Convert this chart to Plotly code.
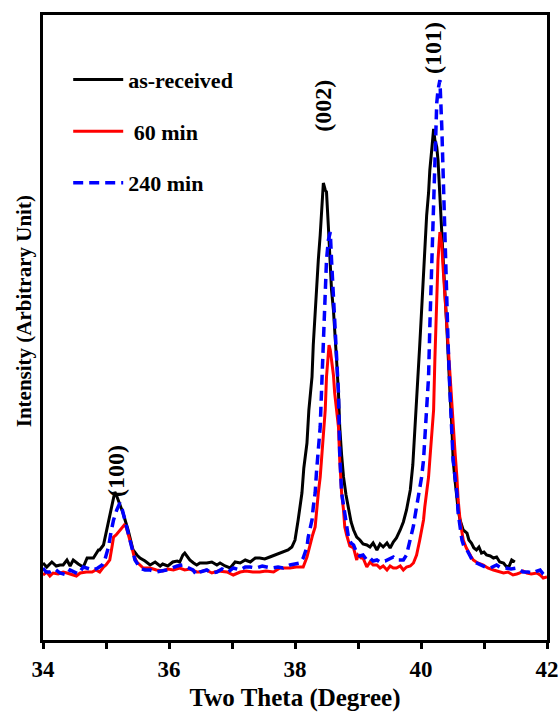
import plotly.graph_objects as go

# ---- data (two theta in degrees, intensity in arbitrary units) ----
asrec_x = [34.00, 34.06, 34.14, 34.21, 34.27, 34.32, 34.38, 34.43, 34.48, 34.56, 34.64, 34.70, 34.75, 34.80, 34.88, 34.90,
           34.96, 35.01, 35.06, 35.10, 35.14, 35.17, 35.22, 35.27, 35.35, 35.43, 35.49, 35.54, 35.62, 35.70, 35.78, 35.86,
           35.90, 35.98, 36.06, 36.13, 36.17, 36.22, 36.25, 36.30, 36.33, 36.39, 36.44, 36.49, 36.60, 36.68, 36.76, 36.81,
           36.89, 36.97, 37.05, 37.13, 37.21, 37.29, 37.37, 37.44, 37.52, 37.60, 37.68, 37.76, 37.83, 37.89, 37.95, 38.00,
           38.05, 38.11, 38.14, 38.19, 38.22, 38.27, 38.29, 38.32, 38.34, 38.37, 38.40, 38.42, 38.45, 38.48, 38.50, 38.53,
           38.56, 38.58, 38.61, 38.63, 38.66, 38.69, 38.71, 38.74, 38.77, 38.81, 38.85, 38.89, 38.93, 38.98, 39.03, 39.08,
           39.14, 39.19, 39.24, 39.30, 39.35, 39.40, 39.46, 39.51, 39.56, 39.61, 39.67, 39.72, 39.77, 39.83, 39.87, 39.90,
           39.93, 39.96, 39.98, 40.01, 40.04, 40.06, 40.09, 40.12, 40.14, 40.17, 40.20, 40.22, 40.25, 40.27, 40.30, 40.33,
           40.35, 40.38, 40.41, 40.43, 40.46, 40.49, 40.51, 40.54, 40.57, 40.59, 40.62, 40.65, 40.67, 40.73, 40.76, 40.80,
           40.84, 40.88, 40.92, 40.96, 41.00, 41.04, 41.10, 41.15, 41.20, 41.25, 41.31, 41.36, 41.40, 41.44, 41.49]
asrec_y = [77, 73, 78, 74, 75, 75, 80, 74, 80, 76, 73, 82, 82, 82, 90, 90,
           95, 110, 127, 138, 148, 144, 135, 127, 110, 90, 85, 82, 79, 75, 78, 74,
           76, 74, 78, 79, 78, 85, 87, 82, 80, 77, 75, 77, 77, 78, 75, 77,
           74, 72, 78, 77, 80, 78, 82, 82, 81, 83, 85, 87, 88, 90, 93, 100,
           120, 147, 172, 197, 230, 263, 295, 330, 355, 380, 405, 430, 457, 450, 448, 413,
           370, 350, 330, 305, 280, 247, 213, 185, 163, 145, 130, 118, 110, 103, 100, 96,
           95, 93, 97, 90, 96, 93, 97, 92, 98, 102, 110, 118, 130, 150, 175, 207,
           235, 263, 295, 330, 365, 397, 425, 447, 470, 490, 511, 500, 493, 480, 447, 415,
           380, 347, 313, 280, 247, 213, 180, 160, 140, 130, 120, 113, 110, 107, 100, 97,
           92, 90, 93, 87, 88, 85, 84, 82, 83, 78, 77, 73, 74, 80, 78]

min60_x = [34.00, 34.06, 34.11, 34.16, 34.24, 34.32, 34.38, 34.46, 34.53, 34.59, 34.69, 34.78, 34.84, 34.90, 34.96, 35.00,
           35.06, 35.10, 35.12, 35.16, 35.20, 35.24, 35.29, 35.32, 35.35, 35.41, 35.44, 35.49, 35.54, 35.59, 35.70, 35.80,
           35.90, 35.98, 36.07, 36.17, 36.25, 36.33, 36.44, 36.49, 36.59, 36.68, 36.78, 36.92, 37.02, 37.13, 37.22, 37.33,
           37.44, 37.54, 37.66, 37.76, 37.84, 37.92, 38.02, 38.13, 38.19, 38.24, 38.28, 38.32, 38.34, 38.37, 38.40, 38.42,
           38.45, 38.48, 38.50, 38.52, 38.54, 38.56, 38.58, 38.61, 38.63, 38.66, 38.69, 38.71, 38.74, 38.77, 38.79, 38.82,
           38.85, 38.87, 38.93, 38.98, 39.00, 39.05, 39.08, 39.14, 39.19, 39.24, 39.30, 39.35, 39.40, 39.46, 39.51, 39.56,
           39.61, 39.67, 39.72, 39.77, 39.83, 39.88, 39.93, 39.96, 39.98, 40.01, 40.04, 40.06, 40.09, 40.12, 40.14, 40.17,
           40.20, 40.22, 40.25, 40.27, 40.30, 40.33, 40.35, 40.38, 40.41, 40.43, 40.46, 40.49, 40.51, 40.54, 40.57, 40.59,
           40.62, 40.65, 40.67, 40.72, 40.75, 40.79, 40.83, 40.90, 40.99, 41.06, 41.15, 41.22, 41.31, 41.38, 41.46, 41.52,
           41.57, 41.62, 41.68, 41.75, 41.84, 41.89, 41.94, 42.00]
min60_y = [65, 68, 64, 67, 66, 68, 67, 65, 64, 67, 68, 68, 70, 68, 73, 75,
           80, 95, 103, 105, 108, 112, 115, 113, 107, 93, 85, 78, 75, 72, 72, 70,
           69, 71, 70, 72, 70, 71, 68, 68, 70, 67, 69, 68, 65, 68, 69, 68,
           68, 69, 68, 72, 72, 72, 73, 73, 83, 97, 105, 113, 130, 147, 163, 180,
           205, 230, 263, 285, 295, 290, 280, 265, 247, 230, 213, 180, 147, 130, 113, 105,
           97, 94, 92, 80, 85, 82, 82, 73, 78, 75, 75, 72, 74, 70, 74, 72,
           72, 74, 70, 73, 74, 77, 85, 93, 100, 110, 120, 133, 147, 163, 180, 205,
           230, 280, 330, 380, 408, 395, 373, 343, 313, 288, 263, 238, 213, 188, 163, 140,
           120, 108, 100, 92, 88, 84, 80, 77, 75, 72, 70, 69, 67, 68, 65, 66,
           67, 69, 67, 66, 67, 65, 62, 63]

min240_x = [34.00, 34.05, 34.11, 34.19, 34.27, 34.38, 34.43, 34.49, 34.56, 34.64, 34.70, 34.80, 34.87, 34.94, 34.98, 35.04,
            35.08, 35.12, 35.17, 35.22, 35.26, 35.30, 35.35, 35.41, 35.46, 35.51, 35.54, 35.62, 35.70, 35.80, 35.89, 35.96,
            36.05, 36.13, 36.22, 36.30, 36.38, 36.44, 36.49, 36.60, 36.68, 36.76, 36.84, 36.94, 37.02, 37.13, 37.21, 37.29,
            37.38, 37.48, 37.55, 37.63, 37.73, 37.81, 37.92, 38.02, 38.08, 38.13, 38.16, 38.19, 38.21, 38.24, 38.27, 38.29,
            38.32, 38.34, 38.37, 38.40, 38.42, 38.45, 38.48, 38.50, 38.53, 38.56, 38.58, 38.61, 38.63, 38.66, 38.69, 38.71,
            38.74, 38.77, 38.79, 38.82, 38.85, 38.89, 38.93, 38.98, 39.03, 39.08, 39.14, 39.19, 39.24, 39.30, 39.35, 39.43,
            39.51, 39.56, 39.61, 39.67, 39.72, 39.77, 39.80, 39.83, 39.85, 39.88, 39.90, 39.93, 39.96, 39.98, 40.01, 40.04,
            40.06, 40.09, 40.12, 40.14, 40.17, 40.20, 40.22, 40.25, 40.27, 40.30, 40.33, 40.35, 40.38, 40.41, 40.43, 40.46,
            40.49, 40.51, 40.54, 40.57, 40.59, 40.62, 40.65, 40.68, 40.73, 40.78, 40.83, 40.88, 40.94, 41.02, 41.10, 41.15,
            41.20, 41.25, 41.36, 41.43, 41.52, 41.57, 41.62, 41.70, 41.78, 41.84, 41.89, 41.94, 42.00]
min240_y = [72, 68, 68, 71, 67, 65, 70, 68, 66, 73, 72, 70, 72, 75, 80, 93,
            108, 120, 130, 137, 130, 120, 110, 95, 80, 75, 72, 70, 70, 68, 69, 70,
            72, 74, 75, 72, 70, 65, 68, 70, 67, 68, 71, 68, 72, 70, 73, 73,
            72, 74, 73, 72, 73, 72, 75, 76, 77, 82, 87, 93, 103, 112, 120, 133,
            147, 167, 190, 213, 247, 297, 340, 380, 400, 408, 380, 340, 313, 287, 247, 187,
            147, 135, 127, 113, 102, 97, 95, 87, 84, 85, 80, 82, 79, 80, 78, 79,
            82, 83, 80, 80, 80, 85, 92, 100, 107, 114, 122, 133, 140, 147, 163, 180,
            205, 230, 263, 313, 380, 447, 497, 537, 550, 560, 513, 463, 413, 347, 297, 247,
            197, 180, 163, 147, 127, 113, 100, 94, 90, 84, 78, 77, 75, 73, 72, 74,
            75, 73, 72, 71, 72, 70, 68, 68, 67, 69, 70, 66, 63]

series_names = ["as-received", "\u00a060 min", "240 min"]
peak_labels = ["(100)", "(002)", "(101)"]
peak_label_x = [35.16, 38.44, 40.19]
peak_label_y = [169, 534, 592]
x_ticks = [34, 36, 38, 40, 42]

FONT = "Times New Roman, Liberation Serif, serif"

fig = go.Figure()
fig.add_trace(go.Scatter(x=asrec_x, y=asrec_y, mode="lines", name=series_names[0],
                         line=dict(color="#000000", width=3), legendgroup="a"))
fig.add_trace(go.Scatter(x=min60_x, y=min60_y, mode="lines", name=series_names[1],
                         line=dict(color="#ff0000", width=3), legendgroup="b"))
fig.add_trace(go.Scatter(x=min240_x, y=min240_y, mode="lines", name=series_names[2],
                         line=dict(color="#0000ff", width=3.5, dash="10px,6px"), legendgroup="c"))

for t, lx, ly in zip(peak_labels, peak_label_x, peak_label_y):
    fig.add_annotation(x=lx, y=ly, xref="x", yref="y", text=t, textangle=-90, showarrow=False,
                       font=dict(family=FONT, size=24, color="black", weight="bold"))

fig.add_annotation(x=-0.0377, y=0.526, xref="paper", yref="paper", text="Intensity (Arbitrary Unit)",
                   textangle=-90, showarrow=False, xanchor="center", yanchor="middle",
                   font=dict(family=FONT, size=21, color="black", weight="bold"))

fig.update_layout(
    width=559, height=712,
    margin=dict(l=43, r=12, t=15, b=72),
    paper_bgcolor="white", plot_bgcolor="white",
    font=dict(family=FONT, color="black", weight="bold"),
    showlegend=True,
    legend=dict(x=0.05, y=0.93, xanchor="left", yanchor="top", bgcolor="rgba(0,0,0,0)",
                font=dict(family=FONT, size=22, color="black", weight="bold"),
                tracegroupgap=20, itemwidth=50, traceorder="grouped"),
    xaxis=dict(range=[34, 42], tickvals=x_ticks, ticktext=[str(v) for v in x_ticks],
               ticks="outside", ticklen=6, tickwidth=2.5, tickcolor="black",
               showline=True, linewidth=3, linecolor="black", mirror=True,
               showgrid=False, zeroline=False, automargin=False,
               minor=dict(dtick=1, tick0=34, ticks="outside", ticklen=6, tickwidth=2.5, tickcolor="black", showgrid=False),
               tickfont=dict(family=FONT, size=23, color="black", weight="bold"),
               title=dict(text="Two Theta (Degree)", standoff=8,
                          font=dict(family=FONT, size=25, color="black", weight="bold"))),
    yaxis=dict(range=[0, 625], showticklabels=False, ticks="", showline=True, linewidth=3,
               linecolor="black", mirror=True, showgrid=False, zeroline=False, automargin=False),
)

fig.write_html("out.html", config={"displayModeBar": False},
               post_script="document.body.style.margin='0';document.body.style.overflow='hidden';")
